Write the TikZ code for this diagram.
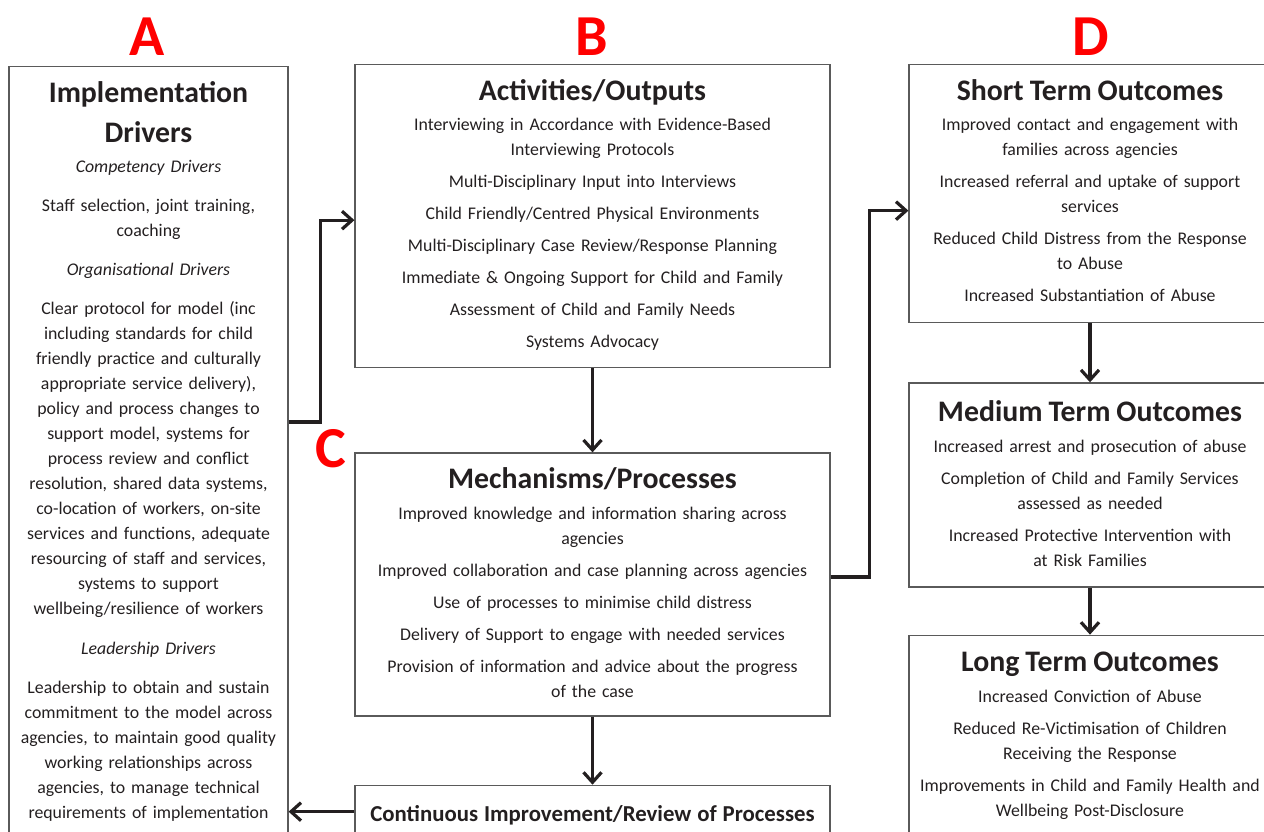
\documentclass[tikz,border=0pt]{standalone}
\usepackage{fontspec}
\setmainfont{Carlito}
\usetikzlibrary{positioning,arrows.meta}
\definecolor{inkgray}{HTML}{231F20}
\definecolor{framegray}{HTML}{5A5A5A}
\newcommand{\bodyfont}{\fontsize{8.9}{12.5}\selectfont}
\newcommand{\headfont}{\fontsize{14.9}{12.5}\selectfont\bfseries}
\newcommand{\subheadfont}{\fontsize{11.4}{12.5}\selectfont\bfseries}
\newcommand{\tagfont}{\fontsize{29}{30}\selectfont\bfseries}

\begin{document}
\begin{tikzpicture}[x=0.5pt, y=-0.5pt, >={Straight Barb[length=5pt,width=9pt]}]
	% Define styles for boxes and arrows
	\tikzset{
		box/.style={
			rectangle,
			draw=framegray,
			line width=0.6pt,
			text=inkgray,
			font=\bodyfont,
			align=center,
			anchor=north,
			inner xsep=2pt,
			inner ysep=7.4pt
		},
		tag/.style={
			text=red,
			font=\tagfont,
			inner sep=0pt
		},
		flow/.style={
			->,
			draw=inkgray,
			line width=1.6pt
		}
	}
	\useasboundingbox (0,0) rectangle (1264,831);
	\clip (0,0) rectangle (1264,831);
	
	% Column letters
	\node[tag] (tagA) at (147,37) {A};
	\node[tag] (tagB) at (592,37) {B};
	\node[tag] (tagC) at (331,449) {C};
	\node[tag] (tagD) at (1091,37) {D};
	
	% Column A: implementation drivers (runs off the page)
	\node[box, text width=135pt, minimum width=139.5pt, text depth=420pt] (implDrivers) at (148.5,66) {
		{\headfont Implementation}\\[6.5pt]
		{\headfont Drivers}\\[2.5pt]
		\textit{Competency Drivers}\\[7pt]
		Staff selection, joint training,\\
		coaching\\[7pt]
		\textit{Organisational Drivers}\\[7pt]
		Clear protocol for model (inc\\
		including standards for child\\
		friendly practice and culturally\\
		appropriate service delivery),\\
		policy and process changes to\\
		support model, systems for\\
		process review and conflict\\
		resolution, shared data systems,\\
		co-location of workers, on-site\\
		services and functions, adequate\\
		resourcing of staff and services,\\
		systems to support\\
		wellbeing/resilience of workers\\[7.5pt]
		\textit{Leadership Drivers}\\[7pt]
		Leadership to obtain and sustain\\
		commitment to the model across\\
		agencies, to maintain good quality\\
		working relationships across\\
		agencies, to manage technical\\
		requirements of implementation};
	
	% Column B/C: activities, mechanisms, review
	\node[box, text width=231pt, minimum width=237.5pt, text depth=126.3pt] (activities) at (592.5,64) {
		{\headfont Activities/Outputs}\\[2.75pt]
		Interviewing in Accordance with Evidence-Based\\
		Interviewing Protocols\\[3.5pt]
		Multi-Disciplinary Input into Interviews\\[3.5pt]
		Child Friendly/Centred Physical Environments\\[3.5pt]
		Multi-Disciplinary Case Review/Response Planning\\[3.5pt]
		Immediate \& Ongoing Support for Child and Family\\[3.5pt]
		Assessment of Child and Family Needs\\[3.5pt]
		Systems Advocacy};
	\node[box, text width=231pt, minimum width=237.5pt, text depth=106.3pt, below=42pt of activities] (mechanisms) {
		{\headfont Mechanisms/Processes}\\[2.75pt]
		Improved knowledge and information sharing across\\
		agencies\\[3.5pt]
		Improved collaboration and case planning across agencies\\[3.5pt]
		Use of processes to minimise child distress\\[3.5pt]
		Delivery of Support to engage with needed services\\[3.5pt]
		Provision of information and advice about the progress\\
		of the case};
	\node[box, text width=231pt, minimum width=237.5pt, inner ysep=10pt, text depth=40pt, below=34pt of mechanisms] (review) {
		{\subheadfont Continuous Improvement/Review of Processes}};
	
	% Column D: outcomes (run off the right edge)
	\node[box, text width=175pt, minimum width=181pt, text depth=103.8pt] (shortTerm) at (1090,64) {
		{\headfont Short Term Outcomes}\\[2.75pt]
		Improved contact and engagement with\\
		families across agencies\\[3.5pt]
		Increased referral and uptake of support\\
		services\\[3.5pt]
		Reduced Child Distress from the Response\\
		to Abuse\\[3.5pt]
		Increased Substantiation of Abuse};
	\node[box, text width=175pt, minimum width=181pt, inner ysep=8.9pt, text depth=73.8pt, below=29.5pt of shortTerm] (mediumTerm) {
		{\headfont Medium Term Outcomes}\\[2.75pt]
		Increased arrest and prosecution of abuse\\[3.5pt]
		Completion of Child and Family Services\\
		assessed as needed\\[3.5pt]
		Increased Protective Intervention with\\
		at Risk Families};
	\node[box, text width=175pt, minimum width=181pt, inner ysep=8.5pt, text depth=200pt, below=23.5pt of mediumTerm] (longTerm) {
		{\headfont Long Term Outcomes}\\[2.75pt]
		Increased Conviction of Abuse\\[3.5pt]
		Reduced Re-Victimisation of Children\\
		Receiving the Response\\[3.5pt]
		Improvements in Child and Family Health and\\
		Wellbeing Post-Disclosure};
	
	% Arrows between the columns
	\draw[flow] ([yshift=-178pt]implDrivers.north east) -- ++(32,0) |- ([yshift=-2pt]activities.west);
	\draw[flow] (activities) -- (mechanisms);
	\draw[flow] ([yshift=3.75pt]mechanisms.east) -- ++(39,0) |- ([yshift=-8.5pt]shortTerm.west);
	\draw[flow] (shortTerm) -- (mediumTerm);
	\draw[flow] (mediumTerm.south) -- (longTerm.north);
	\draw[flow] (mechanisms.south) -- (review.north);
	
	% feedback loop back to the drivers
	\coordinate (reviewIn) at ([yshift=-13.5pt]review.north west);
	\draw[flow] (reviewIn) -- (reviewIn -| implDrivers.east);
\end{tikzpicture}
\end{document}
